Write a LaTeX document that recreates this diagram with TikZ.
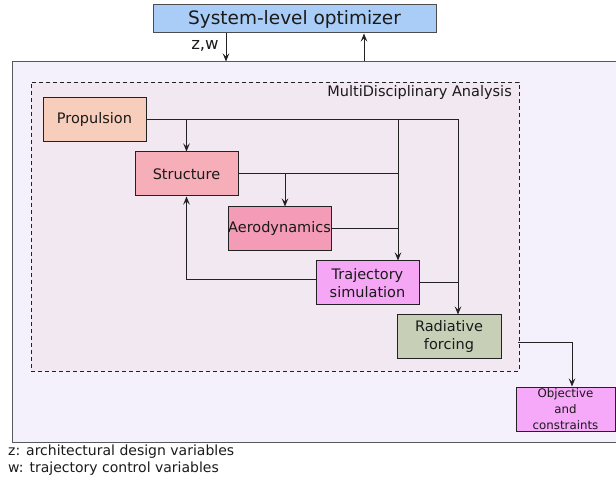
\documentclass[tikz,border=0pt]{standalone}
\usepackage{fontspec}
\setmainfont{DejaVu Sans}
\usetikzlibrary{arrows.meta}
\definecolor{outerfill}{HTML}{F4F0FC}
\definecolor{mdafill}{HTML}{F2E8F2}
\definecolor{optfill}{HTML}{A9CDF7}
\definecolor{propfill}{HTML}{F7CDBB}
\definecolor{strfill}{HTML}{F6AEB8}
\definecolor{aerofill}{HTML}{F49BB7}
\definecolor{trajfill}{HTML}{F5A6F5}
\definecolor{radfill}{HTML}{C7D0B7}
\definecolor{objfill}{HTML}{F6A9F9}
\definecolor{ln}{HTML}{222222}
\definecolor{txt}{HTML}{1A1A1A}
\begin{document}
\begin{tikzpicture}[x=1pt,y=-1pt, every node/.style={text=txt},
  box/.style={draw=ln, line width=1pt, rectangle, minimum width=103pt, minimum height=44pt,
    inner sep=0pt, align=center, font=\fontsize{14.5}{18}\selectfont},
  conn/.style={draw=ln, line width=1pt},
  arr/.style={conn, -{Stealth[length=8pt,width=6.5pt,inset=3pt]}}]
\useasboundingbox (0,0) rectangle (616,486);
% outer box
\node[draw=black!65, line width=1pt, fill=outerfill, minimum width=606pt, minimum height=380pt, inner sep=0pt] (outer) at (315,252) {};
% MDA dashed box
\node[draw=ln, dashed, dash pattern=on 4pt off 3pt, line width=0.9pt, fill=mdafill, minimum width=488pt, minimum height=289pt, inner sep=0pt] (mda) at (275,226.5) {};
\node[anchor=east, font=\fontsize{14.5}{17}\selectfont, inner sep=0pt] (mdalabel) at (512,93) {MultiDisciplinary Analysis};
% optimizer
\node[draw=black!70, line width=1pt, fill=optfill, minimum width=283pt, minimum height=28pt, inner sep=0pt,
  font=\fontsize{18.5}{21}\selectfont] (opt) at (294.5,19) {System-level optimizer};
% disciplines
\node[box, fill=propfill] (prop) at (94.5,120) {Propulsion};
\node[box, fill=strfill] (str) at (186.5,174) {Structure};
\node[box, fill=aerofill] (aero) at (279.5,229) {Aerodynamics};
\node[box, fill=trajfill] (traj) at (367.5,283) {Trajectory\\simulation};
\node[box, fill=radfill, minimum width=104pt] (rad) at (449,337) {Radiative\\forcing};
\node[box, fill=objfill, minimum width=99pt, font=\fontsize{11.8}{16}\selectfont] (obj) at (565.5,409) {Objective\\and\\constraints};
% coordinates
\coordinate (jR) at (458,120);
\coordinate (jT) at (398,120);
\coordinate (jA) at (285,174);
\coordinate (rOut) at (518,343);
\coordinate (oIn) at (572,343);
\coordinate (zin) at (226,0);
\coordinate (zout) at (364,0);
% connectors
\draw[arr] (prop.east) -- (jR) -- (jR |- rad.north);
\draw[arr] (prop.east -| str.north) -- (str.north);
\draw[arr] (jT) -- (jT |- traj.north);
\draw[conn] (str.east) -- (str.east -| jT);
\draw[arr] (jA) -- (jA |- aero.north);
\draw[conn] (aero.east) -- (aero.east -| jT);
\draw[conn] (traj.east) -- (traj.east -| jR);
\draw[arr] ([yshift=3pt]traj.west) -| (str.south);
\draw[arr] (rOut) -- (oIn) -- (oIn |- obj.north);
\draw[arr] (zin |- opt.south) -- (zin |- outer.north);
\draw[arr] (zout |- outer.north) -- (zout |- opt.south);
\node[font=\fontsize{16.5}{18}\selectfont, inner sep=0pt] (zw) at (205,46) {z,w};
% legend
\node[anchor=north west, align=left, inner sep=0pt, font=\fontsize{14}{17}\selectfont] (legend) at (8,445)
  {z: architectural design variables\\w: trajectory control variables};
\end{tikzpicture}
\end{document}
